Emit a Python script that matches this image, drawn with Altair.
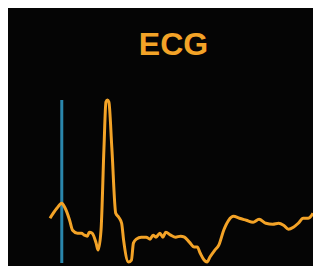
import altair as alt
import pandas as pd

# ECG trace: time (arbitrary units) and amplitude (mV)
time = [0, 7, 12, 15, 20, 23, 28, 32, 35, 38, 40, 43, 47, 49, 52, 55, 57,
        58.5, 60, 63, 67, 70, 73, 75, 80, 83, 85, 88, 93, 98, 102, 105, 108,
        112, 115, 118, 123, 128, 133, 137, 142, 147, 150, 153, 157, 160, 163,
        168, 172, 177, 182, 187, 193, 200, 207, 213, 220, 227, 233, 238, 243,
        248, 253, 258, 263, 268]
mv = [0.14, 0.24, 0.29, 0.25, 0.12, 0.02, -0.01, -0.01, -0.03, -0.04, 0.00,
      -0.01, -0.11, -0.18, 0.02, 0.85, 1.31, 1.33, 1.31, 0.85, 0.19, 0.15,
      0.09, -0.08, -0.30, -0.28, -0.11, -0.07, -0.05, -0.05, -0.07, -0.03,
      -0.05, -0.01, -0.05, 0.00, -0.03, -0.05, -0.04, -0.05, -0.10, -0.15,
      -0.15, -0.21, -0.28, -0.30, -0.25, -0.18, -0.13, 0.02, 0.12, 0.16, 0.14,
      0.12, 0.10, 0.13, 0.09, 0.08, 0.09, 0.07, 0.03, 0.05, 0.09, 0.14, 0.14,
      0.19]
marker_time = [12]

ORANGE = "#f3a327"
BLUE = "#2a86ac"

n = min(len(time), len(mv))
df = pd.DataFrame({"t": time[:n], "v": mv[:n]})
mk = pd.DataFrame({"t": marker_time})

xs = alt.Scale(domain=[0, 268], nice=False, zero=False)
ys = alt.Scale(domain=[-0.31, 1.33], nice=False, zero=False)

rule = alt.Chart(mk).mark_rule(color=BLUE, strokeWidth=3).encode(
    x=alt.X("t:Q", scale=xs, axis=None),
)

line = alt.Chart(df).mark_line(
    color=ORANGE, strokeWidth=3, interpolate="monotone"
).encode(
    x=alt.X("t:Q", scale=xs, axis=None),
    y=alt.Y("v:Q", scale=ys, axis=None),
)

chart = (rule + line).properties(
    width=263,
    height=163,
    padding={"left": 42, "top": 92, "right": 0, "bottom": 3},
    autosize=alt.AutoSizeParams(type="none"),
    background="#050505",
    title=alt.Title(
        "ECG",
        fontSize=32,
        font="Liberation Sans",
        fontWeight="bold",
        color=ORANGE,
        anchor="middle",
        offset=32,
        dx=-8,
    ),
).configure_view(stroke=None)

chart.save("out.html", embed_options={"renderer": "svg", "actions": False})
